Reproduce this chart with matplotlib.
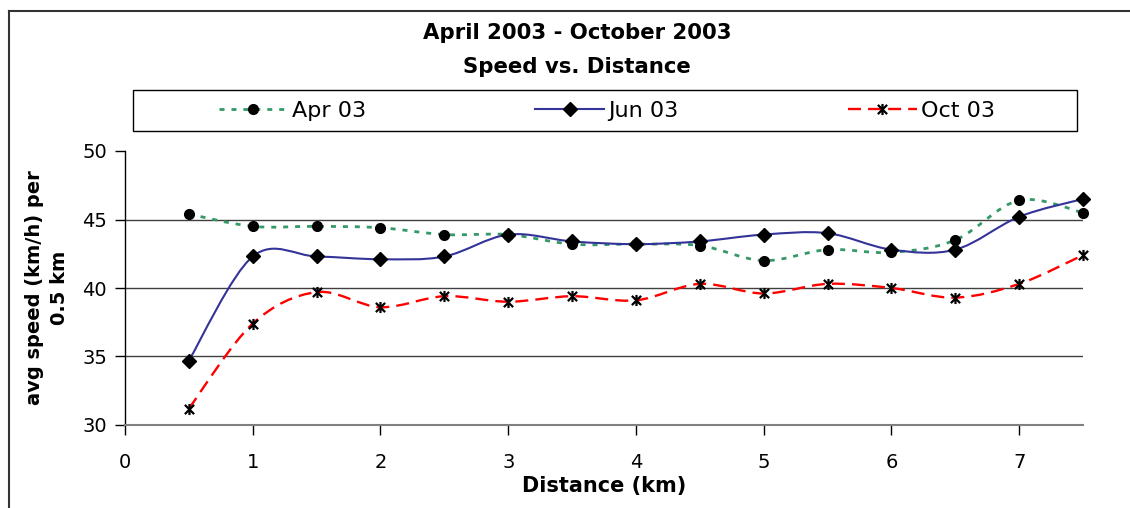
# Speed vs. Distance, April - October 2003
import matplotlib
matplotlib.use("Agg")
import matplotlib.pyplot as plt
from matplotlib.path import Path
from matplotlib.patches import PathPatch, Rectangle
from matplotlib.lines import Line2D

plt.rcParams['font.family'] = ['DejaVu Sans']

# данные
distance = [0.5, 1.0, 1.5, 2.0, 2.5, 3.0, 3.5, 4.0, 4.5, 5.0, 5.5, 6.0, 6.5, 7.0, 7.5]
apr_03 = [45.4, 44.5, 44.5, 44.4, 43.9, 43.9, 43.2, 43.2, 43.1, 42.0, 42.8, 42.6, 43.5, 46.4, 45.5]
jun_03 = [34.7, 42.3, 42.3, 42.1, 42.3, 43.9, 43.4, 43.2, 43.4, 43.9, 44.0, 42.8, 42.8, 45.2, 46.5]
oct_03 = [31.2, 37.4, 39.7, 38.6, 39.4, 39.0, 39.4, 39.1, 40.3, 39.6, 40.3, 40.0, 39.3, 40.3, 42.4]
series_names = ["Apr 03", "Jun 03", "Oct 03"]
x_ticks = [0, 1, 2, 3, 4, 5, 6, 7]
y_ticks = [30, 35, 40, 45, 50]


def smooth_path(xs, ys):
    # сглаженная линия как в Excel (кривые Безье)
    pts = list(zip(xs, ys))
    verts = [pts[0]]
    codes = [Path.MOVETO]
    n = len(pts)
    for i in range(n - 1):
        p0 = pts[i - 1] if i > 0 else pts[i]
        p1 = pts[i]
        p2 = pts[i + 1]
        p3 = pts[i + 2] if i + 2 < n else pts[i + 1]
        c1 = (p1[0] + (p2[0] - p0[0]) / 6, p1[1] + (p2[1] - p0[1]) / 6)
        c2 = (p2[0] - (p3[0] - p1[0]) / 6, p2[1] - (p3[1] - p1[1]) / 6)
        verts += [c1, c2, p2]
        codes += [Path.CURVE4] * 3
    return Path(verts, codes)


# маркер "звёздочка" как в Excel: крест + вертикальная черта
star = Path([(-1, -1), (1, 1), (-1, 1), (1, -1), (0, -1.2), (0, 1.2)],
            [Path.MOVETO, Path.LINETO, Path.MOVETO, Path.LINETO, Path.MOVETO, Path.LINETO])

styles = [
    dict(color="#339966", lw=2.0, ls=(0, (1.8, 2.5)), marker="o", ms=7, mew=1),
    dict(color="#333399", lw=1.5, ls="-", marker="D", ms=7.5, mew=1),
    dict(color="#FF0000", lw=1.7, ls=(0, (5.5, 3.0)), marker=star, ms=8, mew=1.6),
]

fig = plt.figure(figsize=(11.3, 5.08), dpi=100)
ax = fig.add_axes([125 / 1130, 1 - 425 / 508, (1083 - 125) / 1130, (425 - 151) / 508])

handles = []
for ys, st, name in zip([apr_03, jun_03, oct_03], styles, series_names):
    ax.add_patch(PathPatch(smooth_path(distance, ys), fill=False, edgecolor=st["color"],
                           lw=st["lw"], linestyle=st["ls"], zorder=3))
    mfc = "black" if st["marker"] != star else "none"
    ax.plot(distance, ys, ls="none", marker=st["marker"], ms=st["ms"], mfc=mfc,
            mec="black", mew=st["mew"], zorder=4, clip_on=False)
    handles.append(Line2D([], [], color=st["color"], lw=st["lw"], ls=st["ls"],
                          marker=st["marker"], ms=st["ms"], mfc=mfc, mec="black",
                          mew=st["mew"], label=name))

ax.set_xlim(0, 7.5)
ax.set_ylim(30, 50)
ax.set_xticks(x_ticks)
ax.set_yticks(y_ticks)
ax.tick_params(axis="both", direction="out", length=7, width=1, color="black", labelsize=14)
ax.tick_params(axis="x", pad=13)
ax.tick_params(axis="y", pad=6)
for yv in y_ticks[1:-1]:
    ax.axhline(yv, color="#404040", lw=1, zorder=1)
ax.spines["top"].set_visible(False)
ax.spines["right"].set_visible(False)
ax.spines["left"].set_color("black")
ax.spines["left"].set_linewidth(1)
ax.spines["bottom"].set_color("#808080")
ax.spines["bottom"].set_linewidth(1.5)

ax.set_xlabel("Distance (km)", fontsize=15, fontweight="bold", labelpad=3)
fig.text(47 / 1130, 1 - 288 / 508, "avg speed (km/h) per\n0.5 km", rotation=90,
         ha="center", va="center", multialignment="center", fontsize=14,
         fontweight="bold", linespacing=1.45)

fig.text(577 / 1130, 1 - 33 / 508, "April 2003 - October 2003", ha="center", va="center",
         fontsize=15.3, fontweight="bold")
fig.text(577 / 1130, 1 - 67 / 508, "Speed vs. Distance", ha="center", va="center",
         fontsize=15.3, fontweight="bold")

# рамка легенды
fig.patches.append(Rectangle((133 / 1130, 1 - 131 / 508), (1077 - 133) / 1130, 41 / 508,
                             transform=fig.transFigure, fill=False, edgecolor="black", lw=1))
fig.legend(handles=handles, loc="center", bbox_to_anchor=(607 / 1130, 1 - 110.5 / 508),
           ncol=3, frameon=False, fontsize=16, handlelength=3.1, handletextpad=0.2,
           columnspacing=7.6)

# внешняя рамка диаграммы
fig.add_artist(Line2D([9 / 1130, 9 / 1130], [0, 1 - 11 / 508], transform=fig.transFigure,
                      color="#333333", lw=1.5))
fig.add_artist(Line2D([9 / 1130, 1], [1 - 11 / 508, 1 - 11 / 508], transform=fig.transFigure,
                      color="#333333", lw=1.5))

fig.savefig("out.png", dpi=100)
